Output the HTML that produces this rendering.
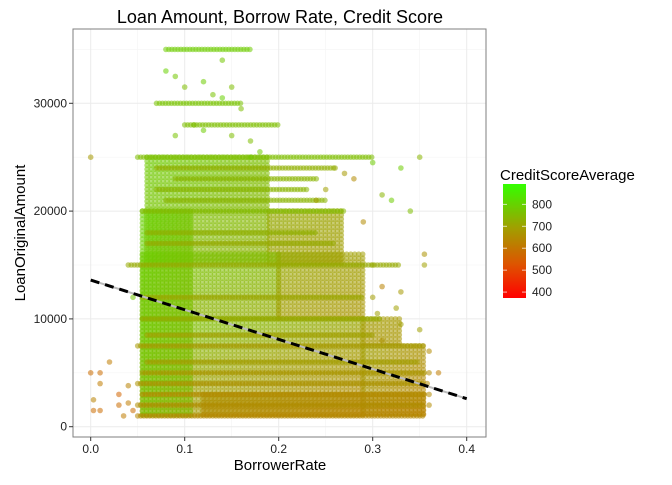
<!DOCTYPE html>
<html><head><meta charset="utf-8"><style>
body{margin:0;background:#fff;font-family:"Liberation Sans",sans-serif}
svg text{font-family:"Liberation Sans",sans-serif}
</style></head><body>
<svg id="c" width="672" height="480" xmlns="http://www.w3.org/2000/svg">
<defs><linearGradient id="cb" x1="0" y1="1" x2="0" y2="0">
<stop offset="0" stop-color="#ff0000"/><stop offset="0.3" stop-color="#dd5500"/><stop offset="0.62" stop-color="#a0a000"/><stop offset="1" stop-color="#33ff00"/></linearGradient></defs>
<text x="280" y="23" font-size="18" text-anchor="middle">Loan Amount, Borrow Rate, Credit Score</text>
<rect x="73" y="29" width="413" height="408" fill="#fff"/>
<g id="grid"></g>
<g id="pts"></g>
<g id="fit"></g>
<rect x="73" y="29" width="413" height="408" fill="none" stroke="#7f7f7f" stroke-width="1"/>
<g id="axes"></g>
<text x="280" y="470" font-size="15" text-anchor="middle">BorrowerRate</text>
<text x="0" y="0" font-size="15" text-anchor="middle" transform="translate(25,233) rotate(-90)">LoanOriginalAmount</text>
<g>
<text x="500" y="180" font-size="15">CreditScoreAverage</text>
<rect x="503" y="184" width="23" height="114" fill="url(#cb)"/>
<g id="leg"></g>
</g>
</svg>
<script>
const xTicks=[0,0.1,0.2,0.3,0.4];
const xTickLabels=["0.0","0.1","0.2","0.3","0.4"];
const yTicks=[0,10000,20000,30000];
const yTickLabels=["0","10000","20000","30000"];
const legendScores=[800,700,600,500,400];
// dense blocks: rateMin, rateMax, amtMin, amtMax, scoreStart, scoreEnd
const blockRateMin=[0.055,0.29,0.06,0.19,0.055,0.2,0.055,0.12,0.29];
const blockRateMax=[0.29,0.355,0.19,0.27,0.2,0.29,0.11,0.355,0.33];
const blockAmtMin=[1000,1000,15000,15000,10000,10000,1000,1000,7500];
const blockAmtMax=[10000,7500,25000,20000,16000,16000,20000,3000,10000];
const blockScoreStart=[780,700,790,720,780,720,800,660,690];
const blockScoreEnd=[630,620,730,690,720,670,750,620,670];
// horizontal bands at round amounts: amount, rateMin, rateMax, score
const bandAmt=[35000,30000,25000,20000,15000,10000,7500,4000,2000,1000,28000,23000,22000,18000,12000,5000,3000,6000,8500,17000,21000,24000];
const bandRateMin=[0.08,0.07,0.05,0.055,0.04,0.055,0.05,0.05,0.05,0.05,0.1,0.09,0.07,0.06,0.055,0.055,0.055,0.06,0.06,0.06,0.08,0.07];
const bandRateMax=[0.17,0.16,0.3,0.27,0.33,0.31,0.355,0.355,0.355,0.355,0.2,0.24,0.23,0.24,0.29,0.355,0.355,0.35,0.3,0.26,0.25,0.26];
const bandScore=[790,770,760,750,720,720,680,660,650,630,760,740,740,730,710,670,640,690,700,720,740,730];
// sparse points: rate, amount, score
const ptRate=[0,0.0,0.003,0.003,0.01,0.01,0.01,0.03,0.03,0.04,0.04,0.035,0.02,0.045,0.045,0.08,0.09,0.1,0.12,0.13,0.14,0.15,0.16,0.14,0.17,0.18,0.09,0.11,0.12,0.15,0.17,0.26,0.3,0.33,0.35,0.355,0.36,0.36,0.37,0.36,0.32,0.31,0.34,0.29,0.31,0.33,0.325,0.305,0.28,0.27,0.25,0.24,0.3,0.3,0.35,0.33,0.31,0.355,0.358,0.36];
const ptAmt=[25000,5000,2500,1500,5000,4000,1500,3000,2000,3800,2200,1000,6000,1500,12000,33000,32500,31500,32000,30800,30500,31500,29500,34000,25000,25500,27000,28000,27500,27000,26500,24000,24500,24000,25000,15000,7000,5000,5000,3000,21000,21500,20000,19000,13000,12500,11000,10500,23000,23500,22000,21000,15000,12000,9000,9500,8000,16000,4000,2000];
const ptScore=[680,560,620,560,560,600,560,540,560,620,600,600,600,560,780,800,780,760,790,770,800,760,760,780,780,790,770,760,790,760,760,720,790,790,740,700,640,640,600,640,790,740,760,640,620,680,700,700,640,680,700,690,720,690,700,700,660,660,640,640];
const fitIntercept=13600, fitSlope=-27500;

const X0=90.7,XS=(466.7-90.7)/0.4,Y0=426.7,YS=(426.7-103.3)/30000;
const xs=v=>X0+v*XS, ys=v=>Y0-v*YS;
const NS="http://www.w3.org/2000/svg";
function mk(tag,attrs,parent){const e=document.createElementNS(NS,tag);for(const k in attrs)e.setAttribute(k,attrs[k]);parent.appendChild(e);return e;}
const stops=[[380,[255,0,0]],[500,[221,85,0]],[700,[160,160,0]],[893,[51,255,0]]];
function col(s){s=Math.max(380,Math.min(893,s));for(let i=0;i<stops.length-1;i++){const a=stops[i],b=stops[i+1];if(s<=b[0]){const t=(s-a[0])/(b[0]-a[0]);const c=a[1].map((v,j)=>Math.round(v+(b[1][j]-v)*t));return`rgb(${c})`;}}return"rgb(51,255,0)";}
const grid=document.getElementById('grid');
[0.05,0.15,0.25,0.35].forEach(v=>{const l=mk('line',{x1:xs(v),x2:xs(v),y1:29,y2:437,stroke:'#f4f4f4','stroke-width':0.6},grid);});
[5000,15000,25000,35000].forEach(v=>{const l=mk('line',{x1:73,x2:486,y1:ys(v),y2:ys(v),stroke:'#f4f4f4','stroke-width':0.6},grid);});
xTicks.forEach(v=>{const l=mk('line',{x1:xs(v),x2:xs(v),y1:29,y2:437,stroke:'#ebebeb','stroke-width':1},grid);});
yTicks.forEach(v=>{const l=mk('line',{x1:73,x2:486,y1:ys(v),y2:ys(v),stroke:'#ebebeb','stroke-width':1},grid);});
const pts=document.getElementById('pts');
function dot(r,a,s){const c=mk('circle',{cx:xs(r).toFixed(1),cy:ys(a).toFixed(1),r:2.8,fill:col(s),'fill-opacity':0.55},pts);}
blockRateMin.forEach((r0,i)=>{const r1=blockRateMax[i],a0=blockAmtMin[i],a1=blockAmtMax[i];
 const px0=xs(r0),px1=xs(r1),py0=ys(a1),py1=ys(a0);
 for(let py=py0;py<=py1;py+=4){for(let px=px0;px<=px1;px+=4){const fx=(px-px0)/(px1-px0||1),fy=(py-py0)/(py1-py0||1);
  const s=blockScoreStart[i]+(blockScoreEnd[i]-blockScoreStart[i])*(0.45*fx+0.55*fy);
  dot(r0+(px-px0)/XS,a1-(py-py0)/YS,s);}}});
bandAmt.forEach((a,i)=>{for(let px=xs(bandRateMin[i]);px<=xs(bandRateMax[i]);px+=3)dot((px-X0)/XS,a,bandScore[i]);});
ptRate.forEach((r,i)=>dot(r,ptAmt[i],ptScore[i]));
const fit=document.getElementById('fit');
const fx0=0,fx1=0.4;
let l=mk('line',{x1:xs(fx0),y1:ys(fitIntercept+fitSlope*fx0),x2:xs(fx1),y2:ys(fitIntercept+fitSlope*fx1),stroke:'#bbbbbb','stroke-width':2},fit);

l=mk('line',{x1:xs(fx0),y1:ys(fitIntercept+fitSlope*fx0),x2:xs(fx1),y2:ys(fitIntercept+fitSlope*fx1),stroke:'#000','stroke-width':3,'stroke-dasharray':'9,6'},fit);

const axes=document.getElementById('axes');
xTicks.forEach((v,i)=>{let t=mk('line',{x1:xs(v),x2:xs(v),y1:437,y2:441,stroke:'#333'},axes);
 t=mk('text',{x:xs(v),y:453,'font-size':12,'text-anchor':'middle',fill:'#222'},axes);t.textContent=xTickLabels[i];});
yTicks.forEach((v,i)=>{let t=mk('line',{x1:69,x2:73,y1:ys(v),y2:ys(v),stroke:'#333'},axes);
 t=mk('text',{x:67,y:ys(v)+4,'font-size':12,'text-anchor':'end',fill:'#222'},axes);t.textContent=yTickLabels[i];});
const leg=document.getElementById('leg');
legendScores.forEach(s=>{const y=184+(893-s)/(893-373)*114;
 let t=mk('line',{x1:503,x2:507,y1:y,y2:y,stroke:'#fff','stroke-opacity':0.7},leg);
 t=mk('line',{x1:522,x2:526,y1:y,y2:y,stroke:'#fff','stroke-opacity':0.7},leg);
 t=mk('text',{x:532,y:y+4,'font-size':12,fill:'#222'},leg);t.textContent=s;});
</script>
</body></html>
